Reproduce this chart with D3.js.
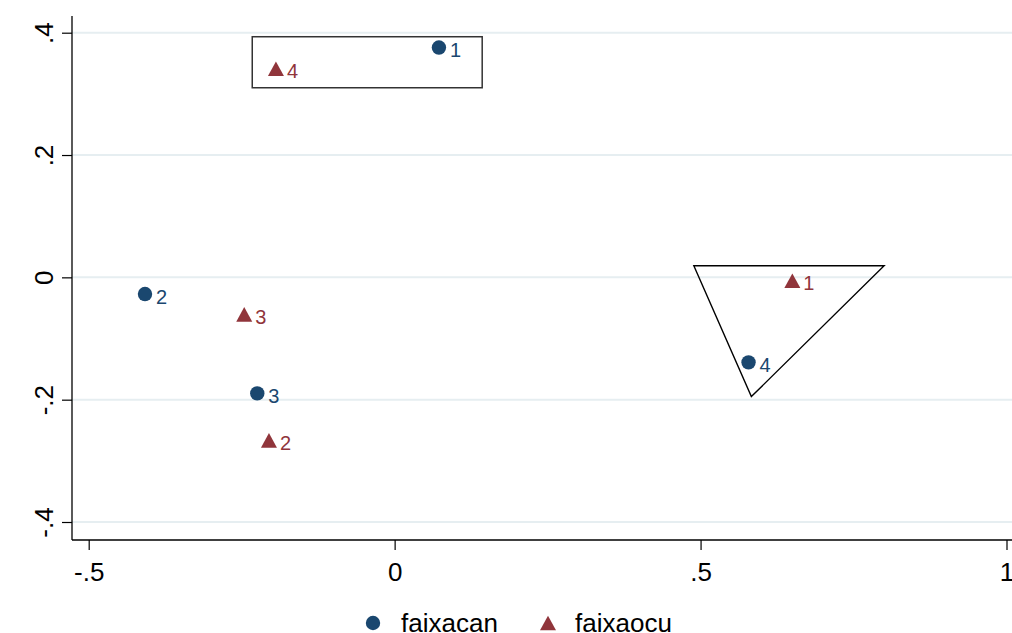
<!DOCTYPE html>
<html><head><meta charset="utf-8">
<script src="https://cdn.jsdelivr.net/npm/d3@7"></script>
<style>body{margin:0;background:#fff;} svg{display:block;font-family:"Liberation Sans",Arial,sans-serif;}</style>
</head><body>
<svg id="c" width="1012" height="633"></svg>
<script>
const canLabels = ["1","2","3","4"];
const canX = [0.0724, -0.408, -0.2245, 0.5784];
const canY = [0.3757, -0.0273, -0.1897, -0.139];
const ocuLabels = ["1","2","3","4"];
const ocuX = [0.650, -0.2054, -0.2458, -0.194];
const ocuY = [-0.0056, -0.2665, -0.0605, 0.341];
const xTicks = [-0.5, 0, 0.5, 1];
const xTickLabels = ["-.5","0",".5","1"];
const yTicks = [-0.4, -0.2, 0, 0.2, 0.4];
const yTickLabels = ["-.4","-.2","0",".2",".4"];
const seriesNames = ["faixacan","faixaocu"];
const rectX = [-0.2327, 0.1431];
const rectY = [0.3934, 0.310];
const triX = [0.489, 0.800, 0.583];
const triY = [0.019, 0.019, -0.195];

const blue = "#1a476f", red = "#90353b";
const svg = d3.select("#c");
const x = d3.scaleLinear().domain([-0.5, 1]).range([88.7, 1006.5]);
const y = d3.scaleLinear().domain([-0.4, 0.4]).range([522, 32.7]);
const pLeft = 72, pRight = 1012, pTop = 16, pBottom = 540;

// gridlines
svg.append("g").selectAll("line").data(yTicks).join("line")
  .attr("x1", pLeft).attr("x2", pRight)
  .attr("y1", d => y(d)).attr("y2", d => y(d))
  .attr("stroke", "#e6eef1").attr("stroke-width", 2);

// axes
const yAxis = d3.axisLeft(y).tickValues(yTicks).tickSize(10).tickFormat((d,i) => yTickLabels[i]);
const gy = svg.append("g").attr("transform", `translate(${pLeft},0)`).call(yAxis);
gy.select(".domain").remove();
gy.selectAll(".tick line").attr("stroke", "#000").attr("stroke-width", 1.2);
gy.selectAll(".tick text").remove();
gy.selectAll(".tick").append("text")
  .attr("transform", "translate(-19,0) rotate(-90)")
  .attr("text-anchor", "middle").attr("fill", "#000")
  .style("font-size", "26px")
  .text((d,i) => yTickLabels[i]);

const xAxis = d3.axisBottom(x).tickValues(xTicks).tickSize(10).tickFormat((d,i) => xTickLabels[i]);
const gx = svg.append("g").attr("transform", `translate(0,${pBottom})`).call(xAxis);
gx.select(".domain").remove();
gx.selectAll(".tick line").attr("stroke", "#000").attr("stroke-width", 1.2);
gx.selectAll(".tick text").attr("dy", null).attr("y", 41).attr("fill", "#000")
  .style("font-size", "26px").style("font-family", "Liberation Sans, Arial, sans-serif");

svg.append("line").attr("x1", pLeft).attr("x2", pLeft).attr("y1", pTop).attr("y2", pBottom)
  .attr("stroke", "#000").attr("stroke-width", 1.3);
svg.append("line").attr("x1", pLeft).attr("x2", pRight).attr("y1", pBottom).attr("y2", pBottom)
  .attr("stroke", "#000").attr("stroke-width", 1.3);

// annotation rectangle
svg.append("rect")
  .attr("x", x(rectX[0])).attr("y", y(rectY[0]))
  .attr("width", x(rectX[1]) - x(rectX[0])).attr("height", y(rectY[1]) - y(rectY[0]))
  .attr("fill", "none").attr("stroke", "#333").attr("stroke-width", 1.5);

// annotation triangle
svg.append("path")
  .attr("d", d3.line()(triX.map((v,i) => [x(v), y(triY[i])])) + "Z")
  .attr("fill", "none").attr("stroke", "#000").attr("stroke-width", 1.4);

// points
const can = canX.map((v,i) => ({x: v, y: canY[i], l: canLabels[i]}));
const ocu = ocuX.map((v,i) => ({x: v, y: ocuY[i], l: ocuLabels[i]}));

svg.append("g").selectAll("circle").data(can).join("circle")
  .attr("cx", d => x(d.x)).attr("cy", d => y(d.y)).attr("r", 7.2).attr("fill", blue);
svg.append("g").selectAll("text").data(can).join("text")
  .attr("x", d => x(d.x) + 11).attr("y", d => y(d.y) + 9.5)
  .attr("fill", blue).style("font-size", "20px").text(d => d.l);

const triPath = "M0,-7.3L8,7.3L-8,7.3Z";
svg.append("g").selectAll("path").data(ocu).join("path")
  .attr("transform", d => `translate(${x(d.x)},${y(d.y)})`)
  .attr("d", triPath).attr("fill", red);
svg.append("g").selectAll("text").data(ocu).join("text")
  .attr("x", d => x(d.x) + 11).attr("y", d => y(d.y) + 9.5)
  .attr("fill", red).style("font-size", "20px").text(d => d.l);

// legend
const lg = svg.append("g");
lg.append("circle").attr("cx", 373).attr("cy", 623).attr("r", 7.2).attr("fill", blue);
lg.append("text").attr("x", 401).attr("y", 632).style("font-size", "26px").attr("fill", "#000").text(seriesNames[0]);
lg.append("path").attr("transform", "translate(548,623)").attr("d", triPath).attr("fill", red);
lg.append("text").attr("x", 575).attr("y", 632).style("font-size", "26px").attr("fill", "#000").text(seriesNames[1]);
</script>
</body></html>
